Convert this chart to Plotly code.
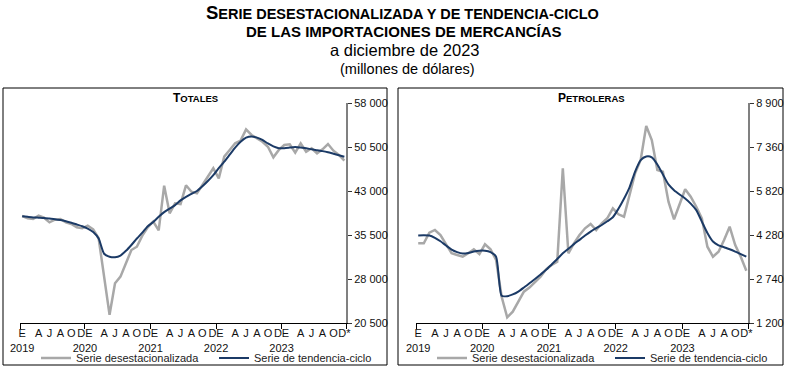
import plotly.graph_objects as go

# ---------------- data ----------------
months = list(range(60))  # enero 2019 ... diciembre 2023

totales_desest = [38740, 38350, 38230, 38790, 38450, 37660, 38110, 38230, 37660, 37370,
                  36810, 36640, 37080, 36470, 34940, 28500, 21900, 27270, 28400, 30680,
                  32940, 33500, 35400, 36800, 37800, 36300, 43900, 39200, 40900, 40780,
                  43970, 42880, 42600, 44020, 45440, 46870, 45160, 48850, 50000, 51130,
                  51580, 53510, 52550, 51980, 51400, 50550, 48740, 50000, 50840, 50960,
                  49530, 51130, 49700, 50280, 49430, 50100, 51010, 49870, 49140, 48170]

totales_tend = [38700, 38600, 38500, 38450, 38400, 38300, 38200, 38050, 37850, 37600,
                37300, 37000, 36600, 36000, 34900, 32300, 31800, 31700, 32000, 32800,
                33800, 34900, 35900, 37000, 37700, 38600, 39400, 40000, 40600, 41400,
                42000, 42500, 43000, 43800, 44700, 45700, 46900, 48000, 49200, 50400,
                51400, 52100, 52300, 52100, 51700, 51100, 50600, 50300, 50300, 50400,
                50500, 50400, 50300, 50100, 49950, 49800, 49600, 49350, 49100, 48850]

petro_desest = [3990, 3990, 4360, 4455, 4280, 3965, 3640, 3580, 3520, 3640,
                3780, 3615, 3955, 3780, 3405, 2120, 1400, 1595, 1945, 2295,
                2440, 2620, 2820, 3080, 3230, 3345, 6615, 3640, 3990, 4280,
                4515, 4665, 4455, 4690, 4865, 5215, 5005, 4920, 5680, 6440,
                6905, 8095, 7605, 6555, 6495, 5445, 4830, 5390, 5880, 5620,
                5270, 4865, 3870, 3520, 3695, 4105, 4570, 3930, 3520, 3030]

petro_tend = [4260, 4270, 4260, 4180, 4060, 3910, 3770, 3680, 3630, 3650,
              3700, 3730, 3730, 3680, 3520, 2150, 2140, 2200, 2300, 2440,
              2590, 2740, 2900, 3060, 3250, 3440, 3640, 3800, 3960, 4110,
              4260, 4400, 4520, 4630, 4760, 4900, 5200, 5550, 5950, 6500,
              6900, 7030, 7000, 6750, 6400, 6050, 5850, 5700, 5560, 5380,
              5150, 4750, 4350, 4050, 3920, 3850, 3780, 3700, 3610, 3520]

x_tick_vals = [0, 3, 5, 7, 9, 11.5, 15, 17, 19, 21, 23.5, 27, 29, 31, 33, 35.5,
               39, 41, 43, 45, 47.5, 51, 53, 55, 57, 59]
x_tick_text = ["E<br>2019", "A", "J", "A", "O", "DE<br>2020", "A", "J", "A", "O",
               "DE<br>2021", "A", "J", "A", "O", "DE<br>2022", "A", "J", "A", "O",
               "DE<br>2023", "A", "J", "A", "O", "D*"]
year_marks = [-0.4, 11.5, 23.5, 35.5, 47.5, 59.3]

tot_ticks = [20500, 28000, 35500, 43000, 50500, 58000]
pet_ticks = [1200, 2740, 4280, 5820, 7360, 8900]

names = ["Serie desestacionalizada", "Serie de tendencia-ciclo"]
GRAY = "#A8A8A8"
NAVY = "#1B3A66"
FONT = "Liberation Sans, Arial, sans-serif"

W, H = 788, 371


def px(x):
    return x / W


def py(y):
    return 1 - y / H


fig = go.Figure()
fig.add_trace(go.Scatter(x=months, y=totales_desest, mode="lines", name=names[0],
                         line=dict(color=GRAY, width=2.5), xaxis="x", yaxis="y", legend="legend"))
fig.add_trace(go.Scatter(x=months, y=totales_tend, mode="lines", name=names[1],
                         line=dict(color=NAVY, width=2, shape="spline", smoothing=0.6),
                         xaxis="x", yaxis="y", legend="legend"))
fig.add_trace(go.Scatter(x=months, y=petro_desest, mode="lines", name=names[0],
                         line=dict(color=GRAY, width=2.5), xaxis="x2", yaxis="y2", legend="legend2"))
fig.add_trace(go.Scatter(x=months, y=petro_tend, mode="lines", name=names[1],
                         line=dict(color=NAVY, width=2, shape="spline", smoothing=0.6),
                         xaxis="x2", yaxis="y2", legend="legend2"))


def xaxis_cfg(domain, anchor):
    return dict(domain=domain, anchor=anchor, range=[-0.4, 59.3],
                tickmode="array", tickvals=x_tick_vals, ticktext=x_tick_text,
                tickangle=0, automargin=False,
                ticks="", showline=True, linecolor="black", linewidth=1,
                showgrid=False, zeroline=False,
                tickfont=dict(size=11, color="#111", family=FONT),
                minor=dict(tickmode="array", tickvals=year_marks, ticks="outside",
                           ticklen=5, tickcolor="black", tickwidth=1))


def yaxis_cfg(rng, ticks, anchor):
    return dict(domain=[py(323), py(103)], anchor=anchor, range=rng, side="right",
                tickmode="array", tickvals=ticks, tickformat=",d", automargin=False,
                ticks="outside", ticklen=4, tickcolor="#333", tickwidth=1,
                showline=True, linecolor="#808080", linewidth=2,
                showgrid=False, zeroline=False,
                tickfont=dict(size=11, color="#111", family=FONT))


legend_common = dict(orientation="h", yanchor="middle", y=py(358), xanchor="left",
                     font=dict(size=11, color="#222", family=FONT), itemwidth=30,
                     bgcolor="rgba(0,0,0,0)", entrywidth=133, entrywidthmode="pixels",
                     tracegroupgap=0)

fig.update_layout(
    width=W, height=H, autosize=False, margin=dict(l=0, r=0, t=0, b=0, autoexpand=False),
    paper_bgcolor="white", plot_bgcolor="white",
    font=dict(family=FONT, color="#111"),
    separators=". ",
    xaxis=xaxis_cfg([px(20), px(346)], "y"),
    yaxis=yaxis_cfg([20500, 58000], tot_ticks, "x"),
    xaxis2=xaxis_cfg([px(416), px(748)], "y2"),
    yaxis2=yaxis_cfg([1200, 8900], pet_ticks, "x2"),
    legend=dict(legend_common, x=px(36)),
    legend2=dict(legend_common, x=px(432)),
    shapes=[
        dict(type="rect", xref="paper", yref="paper", x0=px(3), x1=px(387),
             y0=py(365), y1=py(88), line=dict(color="black", width=1)),
        dict(type="rect", xref="paper", yref="paper", x0=px(398), x1=px(783),
             y0=py(365), y1=py(88), line=dict(color="black", width=1)),
    ],
    annotations=[
        dict(xref="paper", yref="paper", x=px(403), y=py(12), showarrow=False,
             yanchor="middle", xanchor="center",
             text="<b><span style='font-size:18.5px'>S</span>ERIE DESESTACIONALIZADA Y DE TENDENCIA-CICLO</b>",
             font=dict(size=14.5, color="black", family=FONT)),
        dict(xref="paper", yref="paper", x=px(404), y=py(31), showarrow=False,
             yanchor="middle", xanchor="center",
             text="<b>DE LAS IMPORTACIONES DE MERCANCÍAS</b>",
             font=dict(size=15, color="black", family=FONT)),
        dict(xref="paper", yref="paper", x=px(405), y=py(50), showarrow=False,
             yanchor="middle", xanchor="center", text="a diciembre de 2023",
             font=dict(size=16.5, color="black", family=FONT)),
        dict(xref="paper", yref="paper", x=px(407), y=py(69), showarrow=False,
             yanchor="middle", xanchor="center", text="(millones de dólares)",
             font=dict(size=14.5, color="black", family=FONT)),
        dict(xref="paper", yref="paper", x=px(195), y=py(98), showarrow=False,
             yanchor="middle", xanchor="center",
             text="<b><span style='font-size:12px'>T</span>OTALES</b>",
             font=dict(size=9.5, color="black", family=FONT)),
        dict(xref="paper", yref="paper", x=px(591), y=py(98), showarrow=False,
             yanchor="middle", xanchor="center",
             text="<b><span style='font-size:12px'>P</span>ETROLERAS</b>",
             font=dict(size=9.5, color="black", family=FONT)),
    ],
)

fig.write_html("out.html", config={"displayModeBar": False},
               post_script="document.body.style.margin='0';")
